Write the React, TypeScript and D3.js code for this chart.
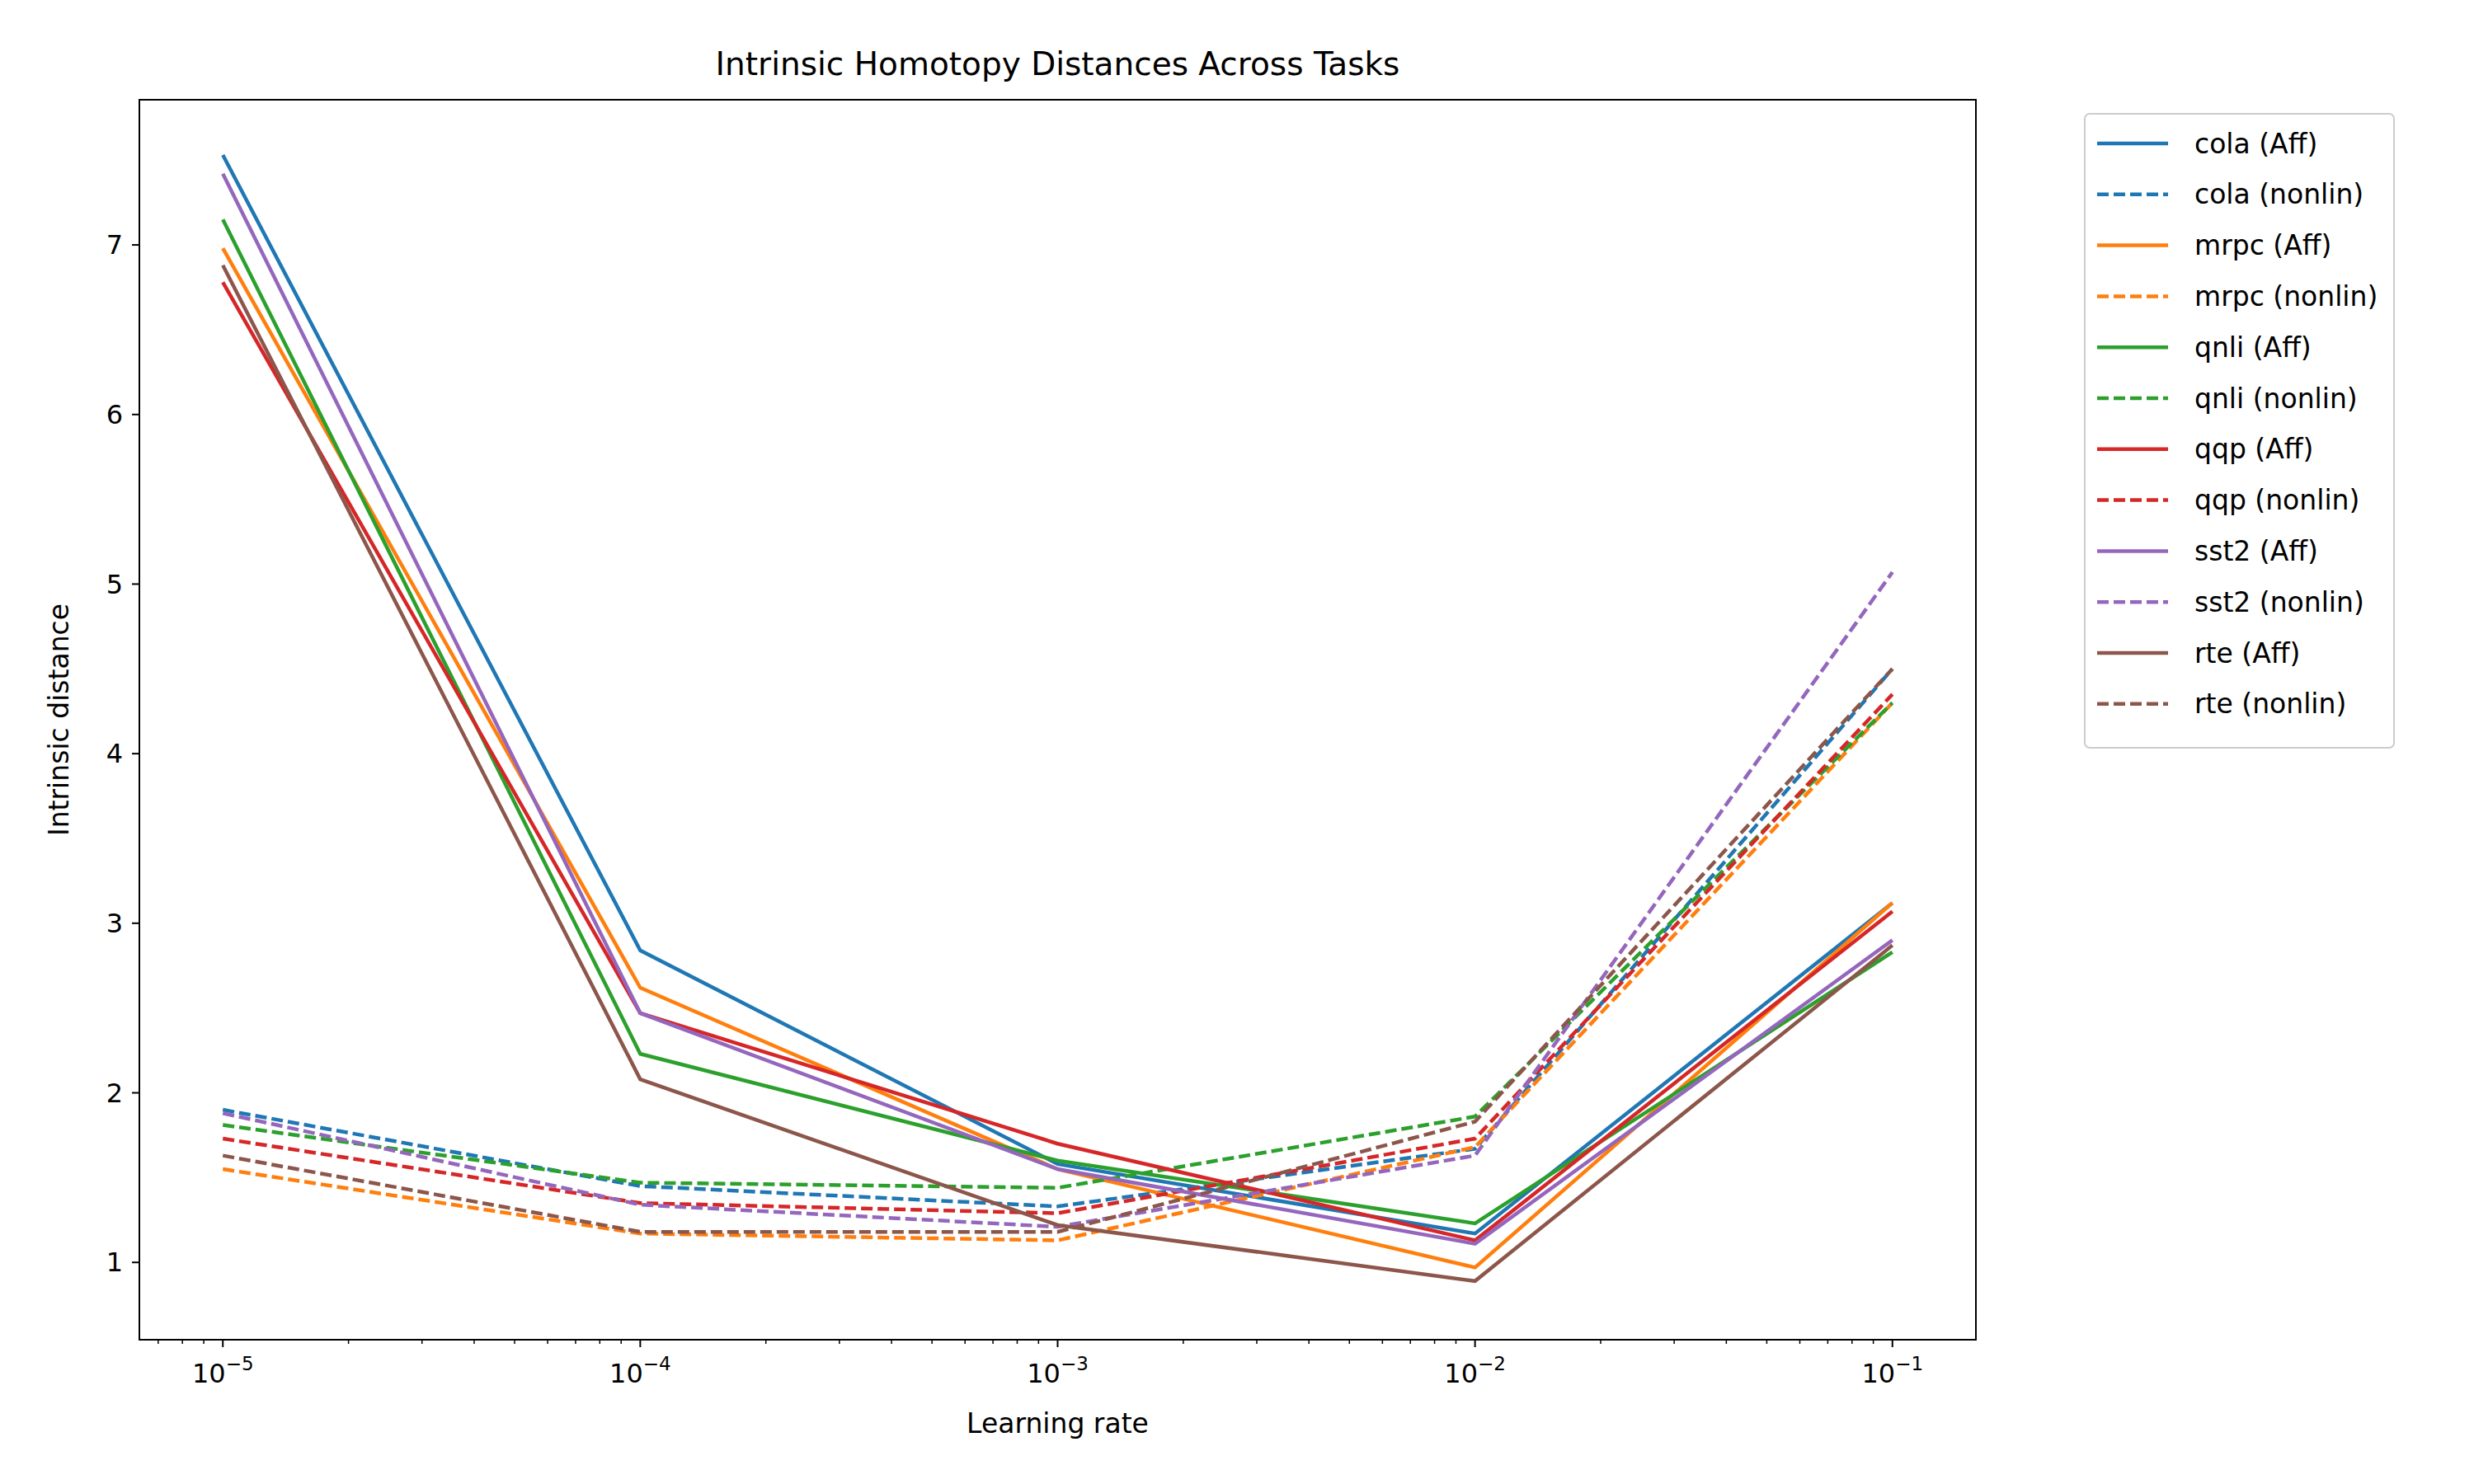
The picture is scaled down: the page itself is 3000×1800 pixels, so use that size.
import * as d3 from "d3";

const lrs = [1e-5, 1e-4, 1e-3, 1e-2, 1e-1];
const tasks = ["cola", "mrpc", "qnli", "qqp", "sst2", "rte"];
const colors = ["#1f77b4", "#ff7f0e", "#2ca02c", "#d62728", "#9467bd", "#8c564b"];

const colaAff = [7.53, 2.84, 1.58, 1.17, 3.12];
const mrpcAff = [6.98, 2.62, 1.55, 0.97, 3.12];
const qnliAff = [7.15, 2.23, 1.6, 1.23, 2.83];
const qqpAff = [6.78, 2.47, 1.7, 1.13, 3.07];
const sst2Aff = [7.42, 2.47, 1.55, 1.11, 2.9];
const rteAff = [6.88, 2.08, 1.22, 0.89, 2.87];

const colaNon = [1.9, 1.45, 1.33, 1.67, 4.5];
const mrpcNon = [1.55, 1.17, 1.13, 1.68, 4.3];
const qnliNon = [1.81, 1.47, 1.44, 1.86, 4.3];
const qqpNon = [1.73, 1.35, 1.29, 1.73, 4.35];
const sst2Non = [1.88, 1.34, 1.21, 1.63, 5.07];
const rteNon = [1.63, 1.18, 1.18, 1.83, 4.5];

const affSeries = [colaAff, mrpcAff, qnliAff, qqpAff, sst2Aff, rteAff];
const nonSeries = [colaNon, mrpcNon, qnliNon, qqpNon, sst2Non, rteNon];
const yTicks = [1, 2, 3, 4, 5, 6, 7];

const M = { left: 161, right: 2388, top: 113, bottom: 1617 };
const FONT = "DejaVu Sans, sans-serif";

export default function App() {
  const x = d3.scaleLog().domain([10 ** -5.2, 10 ** -0.8]).range([M.left, M.right]);
  const y = d3.scaleLinear().domain([0.544, 7.856]).range([M.bottom, M.top]);
  const line = d3.line<number>().x((_, i) => x(lrs[i])).y((d) => y(d));
  const minor: number[] = [];
  for (let e = -6; e <= -1; e++) for (let k = 2; k <= 9; k++) {
    const v = k * 10 ** e;
    if (v > x.domain()[0] && v < x.domain()[1]) minor.push(v);
  }
  const series = tasks.flatMap((t, i) => [
    { label: `${t} (Aff)`, data: affSeries[i], color: colors[i], dash: null },
    { label: `${t} (nonlin)`, data: nonSeries[i], color: colors[i], dash: "14,6" },
  ]);
  return (
    <svg width={3000} height={1800} style={{ display: "block", background: "#fff" }} fontFamily={FONT}>
      <rect width={3000} height={1800} fill="#fff" />
      <defs>
        <clipPath id="clip"><rect x={M.left} y={M.top} width={M.right - M.left} height={M.bottom - M.top} /></clipPath>
      </defs>
      <g clipPath="url(#clip)">
        {series.map((s) => (
          <path key={s.label} d={line(s.data) ?? ""} fill="none" stroke={s.color} strokeWidth={4.5}
            strokeDasharray={s.dash ?? undefined} />
        ))}
      </g>
      <rect x={M.left} y={M.top} width={M.right - M.left} height={M.bottom - M.top} fill="none" stroke="#000" strokeWidth={2} />
      {yTicks.map((t) => (
        <g key={t}>
          <line x1={M.left - 9} x2={M.left} y1={y(t)} y2={y(t)} stroke="#000" strokeWidth={2} />
          <text x={M.left - 20} y={y(t)} dy="0.35em" textAnchor="end" fontSize={32}>{t}</text>
        </g>
      ))}
      {minor.map((v) => (
        <line key={v} x1={x(v)} x2={x(v)} y1={M.bottom} y2={M.bottom + 5} stroke="#000" strokeWidth={1.5} />
      ))}
      {lrs.map((v) => (
        <g key={v}>
          <line x1={x(v)} x2={x(v)} y1={M.bottom} y2={M.bottom + 9} stroke="#000" strokeWidth={2} />
          <text x={x(v)} y={M.bottom + 52} textAnchor="middle" fontSize={32}>
            10<tspan dy={-15} fontSize={23}>{`−${Math.round(-Math.log10(v))}`}</tspan>
          </text>
        </g>
      ))}
      <text x={(M.left + M.right) / 2} y={1730} textAnchor="middle" fontSize={33}>Learning rate</text>
      <text transform={`translate(75,${(M.top + M.bottom) / 2}) rotate(-90)`} textAnchor="middle" fontSize={33}>Intrinsic distance</text>
      <text x={(M.left + M.right) / 2} y={83} textAnchor="middle" fontSize={39}>Intrinsic Homotopy Distances Across Tasks</text>
      <rect x={2520} y={130} width={375} height={769} rx={6} fill="#fff" stroke="#ccc" strokeWidth={2} />
      {series.map((s, i) => {
        const ly = 166 + i * 61.8;
        return (
          <g key={s.label}>
            <line x1={2535} x2={2621} y1={ly} y2={ly} stroke={s.color} strokeWidth={4.5} strokeDasharray={s.dash ?? undefined} />
            <text x={2653} y={ly} dy="0.35em" fontSize={33}>{s.label}</text>
          </g>
        );
      })}
    </svg>
  );
}
